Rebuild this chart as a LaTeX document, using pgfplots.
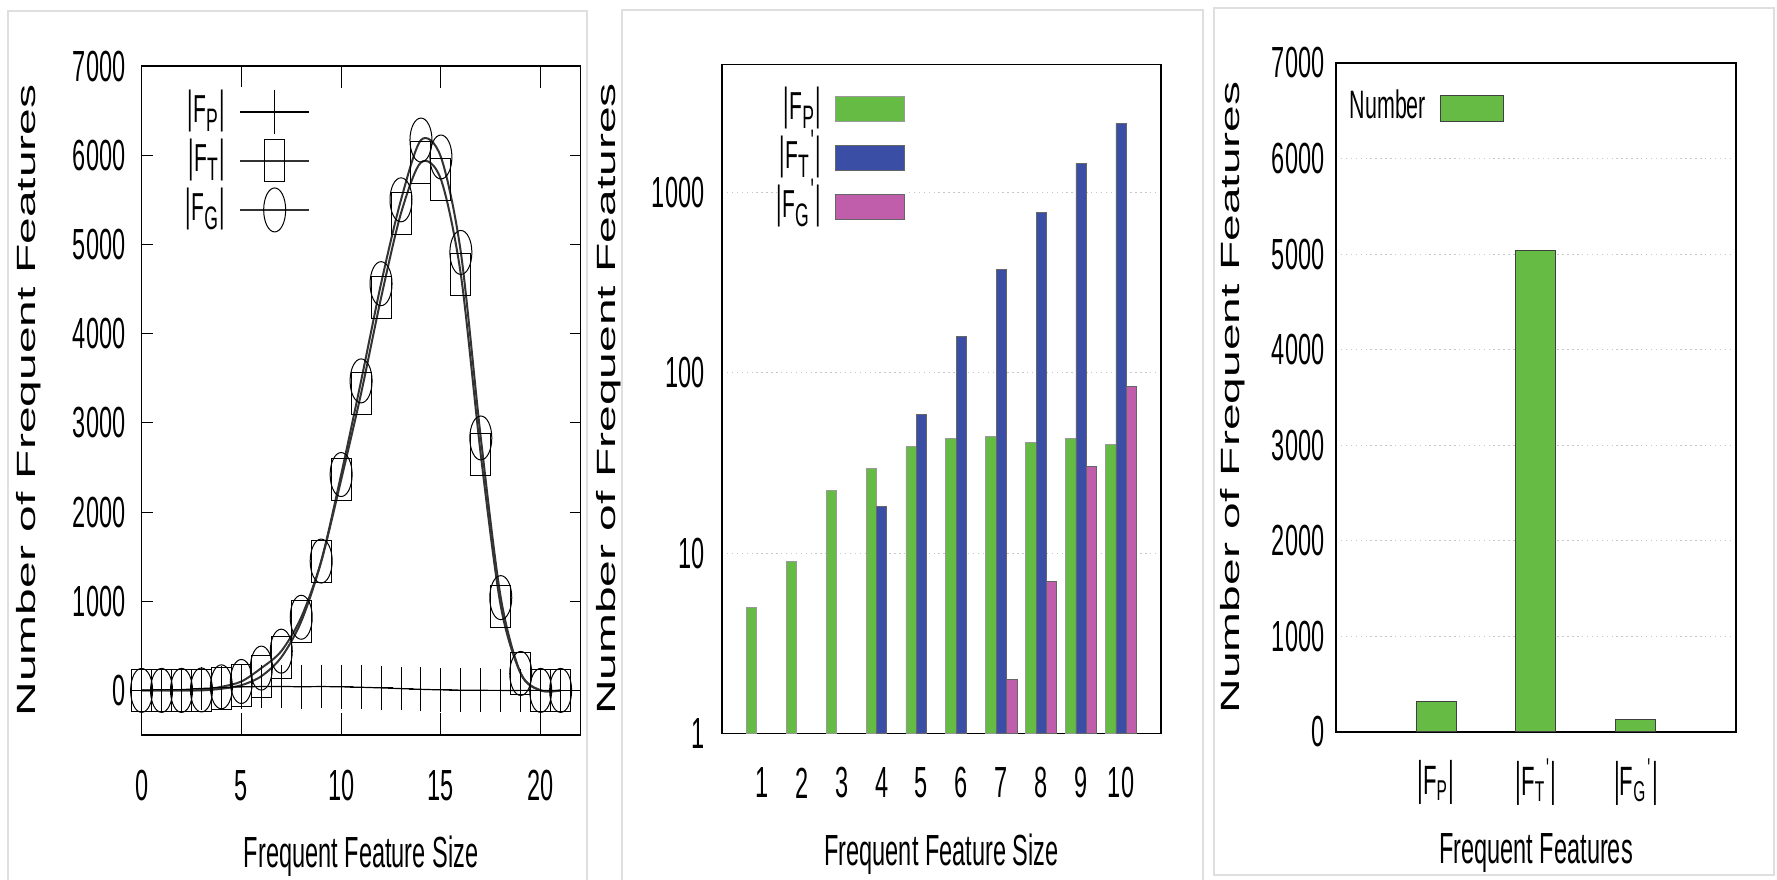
\documentclass[border=0pt]{standalone}
\usepackage{fontspec}
\setmainfont{Liberation Sans}
\usepackage{graphicx}
\usepackage{pgfplots}
\pgfplotsset{compat=1.18}

\definecolor{barGreen}{RGB}{102,187,68}
\definecolor{barBlue}{RGB}{58,78,165}
\definecolor{barPink}{RGB}{192,94,172}

% vertical stretch of the scanned figure
\newcommand\st[1]{\scalebox{1}[1.85]{#1}}
\newcommand\vb{\scalebox{1}[1.15]{|}}
\newcommand\pr{\textsuperscript{\textquotesingle}}
\newcommand\fs[2]{\vb F\textsubscript{#1}#2\vb}

\pgfplotsset{
  panel/.style={
    scale only axis,
    axis line style={line width=0.12mm},
    every tick/.style={black,line width=0.1mm},
    tick label style={font=\fontsize{6.7}{8}\selectfont, inner sep=0pt},
    xlabel style={font=\fontsize{6.7}{8}\selectfont, at={(axis description cs:0.5,-0.181)}, anchor=center, yscale=1.85},
    ylabel style={font=\fontsize{7.5}{9}\selectfont, anchor=center},
    legend cell align=right,
    legend plot pos=right,
  },
  leg/.style={legend style={draw=none, fill=white, inner sep=0pt, outer sep=0pt,
      at={#1}, anchor=north east, column sep=1.4mm, row sep=0pt,
      nodes={inner sep=0pt, text height=3.5mm, text depth=1.4mm, font=\fontsize{6}{7}\selectfont}}},
}

\begin{document}
\begin{tikzpicture}
% light frames of the three screenshots
\draw[gray!25, line width=0.15mm] (0.8mm,-1mm) rectangle (58.7mm,86.9mm);
\draw[gray!25, line width=0.15mm] (62.2mm,-1mm) rectangle (120.3mm,87mm);
\draw[gray!25, line width=0.15mm] (121.4mm,0.5mm) rectangle (177.4mm,87.2mm);

% ---- panel 1: line plot
\begin{axis}[panel,
  at={(14.16mm,14.5mm)}, anchor=south west,
  width=43.9mm, height=66.9mm,
  xmin=0, xmax=22, ymin=-500, ymax=7000,
  xtick={0,5,10,15,20}, xticklabels={0,5,10,15,20},
  ytick={0,1000,...,7000}, yticklabels={0,1000,2000,3000,4000,5000,6000,7000},
  major tick length=1.1mm,
  xtick style={/pgfplots/major tick length=2.2mm},
  xticklabel style={anchor=center, yshift=-5.1mm, yscale=1.85},
  yticklabel style={anchor=east, xshift=-1.56mm, yscale=1.85},
  xlabel={Frequent Feature Size},
  ylabel={\scalebox{1.82}[1]{Number of Frequent Features}},
  ylabel style={at={(axis description cs:-0.257,0.5)}},
  leg={(axis description cs:0.384,0.968)},
  legend image code/.code={\draw[mark repeat=2,mark phase=2,#1] plot coordinates {(0mm,0mm) (3.45mm,0mm) (6.9mm,0mm)};},
]
\addplot[black, line width=0.12mm, smooth, mark=+, mark size=1.15mm, mark options={yscale=1.9, line width=0.1mm}]
  coordinates {(0,1)(1,5)(2,9)(3,22)(4,29)(5,39)(6,43)(7,44)(8,41)(9,43)(10,40)(11,35)(12,28)(13,20)(14,12)(15,6)(16,3)(17,1)(18,0)(19,0)(20,0)(21,0)};
\addlegendentry{\st{\fs{P}{}}}
\addplot[black!80, line width=0.2mm, smooth, mark=square, mark size=1.0mm, mark options={yscale=2.1, line width=0.1mm, black}]
  coordinates {(0,0)(1,0)(2,0)(3,0)(4,18)(5,58)(6,159)(7,371)(8,773)(9,1442)(10,2360)(11,3330)(12,4400)(13,5350)(14,5920)(15,5730)(16,4660)(17,2640)(18,945)(19,190)(20,0)(21,0)};
\addlegendentry{\st{\fs{T}{}}}
\addplot[black!80, line width=0.2mm, smooth, mark=o, mark size=1.1mm, mark options={yscale=2.0, line width=0.1mm, black}]
  coordinates {(0,0)(1,0)(2,0)(3,5)(4,40)(5,100)(6,250)(7,440)(8,820)(9,1450)(10,2420)(11,3470)(12,4560)(13,5500)(14,6170)(15,5980)(16,4910)(17,2830)(18,1040)(19,190)(20,0)(21,0)};
\addlegendentry{\st{\fs{G}{}}}
\end{axis}

% ---- panel 2: log bars
\begin{axis}[panel,
  at={(72.2mm,14.65mm)}, anchor=south west,
  width=43.9mm, height=66.9mm,
  ymode=log, xmin=0, xmax=11, ymin=1, ymax=5100,
  xtick={1,...,10}, xticklabels={1,2,3,4,5,6,7,8,9,10},
  ytick={1,10,100,1000}, yticklabels={1,10,100,1000},
  minor ytick={}, tick style={draw=none},
  ymajorgrids, grid style={densely dotted, gray!45, line width=0.1mm},
  xticklabel style={anchor=center, yshift=-4.95mm, yscale=1.85},
  yticklabel style={anchor=east, xshift=-1.7mm, yscale=1.85},
  xlabel={Frequent Feature Size},
  ylabel={\scalebox{1.82}[1]{Number of Frequent Features}},
  ylabel style={at={(axis description cs:-0.257,0.5)}},
  leg={(axis description cs:0.417,0.970)},
  legend image code/.code={\draw[#1] (0mm,-1.25mm) rectangle (6.9mm,1.25mm);},
]
\addplot[ybar, bar width=0.26, bar shift=-0.26, fill=barGreen, draw=black!40, line width=0.08mm]
  coordinates {(1,5.0)(2,9.0)(3,22.2)(4,29.5)(5,38.8)(6,43.2)(7,44.5)(8,41.1)(9,43.2)(10,40.0)};
\addlegendentry{\st{\fs{P}{}}}
\addplot[ybar, bar width=0.26, bar shift=0, fill=barBlue, draw=black!60, line width=0.08mm]
  coordinates {(4,18.1)(5,58.4)(6,159)(7,371)(8,773)(9,1442)(10,2400)};
\addlegendentry{\st{\fs{T}{\pr}}}
\addplot[ybar, bar width=0.26, bar shift=0.26, fill=barPink, draw=black!60, line width=0.08mm]
  coordinates {(7,2.0)(8,7.0)(9,30.2)(10,83.6)};
\addlegendentry{\st{\fs{G}{\pr}}}
\end{axis}

% ---- panel 3: totals
\begin{axis}[panel,
  at={(133.6mm,14.8mm)}, anchor=south west,
  width=40mm, height=66.9mm,
  xmin=0, xmax=4, ymin=0, ymax=7000,
  xtick={1,2,3}, xticklabels={\fs{P}{},\fs{T}{\pr},\fs{G}{\pr}},
  ytick={0,1000,...,7000}, yticklabels={0,1000,2000,3000,4000,5000,6000,7000},
  tick style={draw=none},
  ymajorgrids, grid style={densely dotted, gray!45, line width=0.1mm},
  xticklabel style={anchor=center, yshift=-5.0mm, font=\fontsize{6.3}{7}\selectfont, yscale=1.85},
  yticklabel style={anchor=east, xshift=-1.1mm, yscale=1.85},
  xlabel={Frequent Features},
  ylabel={\scalebox{1.82}[1]{Number of Frequent Features}},
  ylabel style={at={(axis description cs:-0.2575,0.5)}},
  leg={(axis description cs:0.42,0.969)},
  legend style={nodes={font=\fontsize{6.1}{7}\selectfont}},
  legend image code/.code={\draw[#1] (0mm,-1.3mm) rectangle (6.3mm,1.3mm);},
]
\addplot[ybar, bar width=0.4, bar shift=0, fill=barGreen, draw=black!75, line width=0.1mm]
  coordinates {(1,314)(2,5034)(3,130)};
\addlegendentry{\st{Number}}
\end{axis}

\pgfresetboundingbox
\useasboundingbox (0,0) rectangle (177.7mm,88mm);
\end{tikzpicture}
\end{document}
